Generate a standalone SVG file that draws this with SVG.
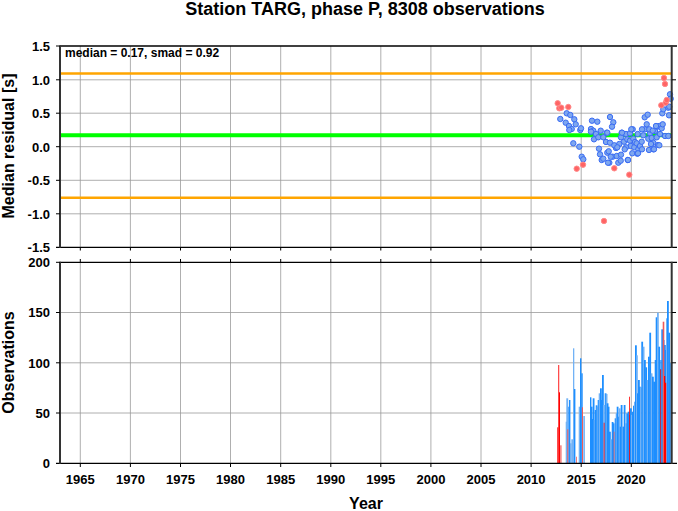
<svg xmlns="http://www.w3.org/2000/svg" width="678" height="511" viewBox="0 0 678 511">
<style>
text{font-family:"Liberation Sans",Arial,sans-serif;font-weight:bold;fill:#000}
.ty{font-size:13px;text-anchor:end}
.tx{font-size:13px;text-anchor:middle}
.lab{font-size:16px;text-anchor:middle}
.grid line{stroke:#9a9a9a;stroke-width:0.8}
.frame{stroke:#000;stroke-width:1.3;fill:none}
.side{stroke:#333;stroke-width:2}
.tick{stroke:#000;stroke-width:1}
.pb{fill:#7ea7ef;stroke:#3a6cf4;stroke-width:1}
.pr{fill:#ff6464;stroke:#ff8a8a;stroke-width:1}
.b{fill:#1e8fff}
.bl{fill:#72b2f6}
.r{fill:#ff0000}
.rl{fill:#ee5a5a}
</style>
<rect width="678" height="511" fill="#fff"/>
<text id="title" x="365" y="15.3" style="font-size:18px;text-anchor:middle">Station TARG, phase P, 8308 observations</text>

<g id="panel-residual">
 <g class="grid">
  <line x1="80.3" y1="46" x2="80.3" y2="247.3"/><line x1="130.4" y1="46" x2="130.4" y2="247.3"/><line x1="180.5" y1="46" x2="180.5" y2="247.3"/><line x1="230.5" y1="46" x2="230.5" y2="247.3"/><line x1="280.7" y1="46" x2="280.7" y2="247.3"/><line x1="330.8" y1="46" x2="330.8" y2="247.3"/><line x1="380.8" y1="46" x2="380.8" y2="247.3"/><line x1="430.9" y1="46" x2="430.9" y2="247.3"/><line x1="481" y1="46" x2="481" y2="247.3"/><line x1="531.1" y1="46" x2="531.1" y2="247.3"/><line x1="581.2" y1="46" x2="581.2" y2="247.3"/><line x1="631.3" y1="46" x2="631.3" y2="247.3"/>
  <line x1="60" y1="79.8" x2="671.7" y2="79.8"/><line x1="60" y1="113.2" x2="671.7" y2="113.2"/><line x1="60" y1="146.7" x2="671.7" y2="146.7"/><line x1="60" y1="180.3" x2="671.7" y2="180.3"/><line x1="60" y1="213.8" x2="671.7" y2="213.8"/>
 </g>
 <line x1="60" y1="73.5" x2="671.7" y2="73.5" stroke="#ffa500" stroke-width="2.6"/>
 <line x1="60" y1="197.8" x2="671.7" y2="197.8" stroke="#ffa500" stroke-width="2.6"/>
 <line x1="60" y1="135.3" x2="671.7" y2="135.3" stroke="#00ff00" stroke-width="4"/>
 <g id="points-blue">
  <circle class="pb" cx="560.3" cy="119" r="2.7"/><circle class="pb" cx="566.7" cy="113.3" r="2.7"/><circle class="pb" cx="570.3" cy="115" r="2.7"/><circle class="pb" cx="574.3" cy="119.3" r="2.7"/><circle class="pb" cx="565.7" cy="122.7" r="2.7"/><circle class="pb" cx="569" cy="126" r="2.7"/><circle class="pb" cx="571.7" cy="129" r="2.7"/><circle class="pb" cx="569.3" cy="130" r="2.7"/><circle class="pb" cx="575.7" cy="124.3" r="2.7"/><circle class="pb" cx="580.3" cy="130" r="2.7"/><circle class="pb" cx="581" cy="128.3" r="2.7"/><circle class="pb" cx="573.3" cy="143.3" r="2.7"/><circle class="pb" cx="579.3" cy="146.7" r="2.7"/><circle class="pb" cx="581.7" cy="156.7" r="2.7"/><circle class="pb" cx="583.3" cy="159.3" r="2.7"/>
  <circle class="pb" cx="592" cy="120.7" r="2.7"/><circle class="pb" cx="597.3" cy="121.7" r="2.7"/><circle class="pb" cx="610" cy="117" r="2.7"/><circle class="pb" cx="613.3" cy="122.3" r="2.7"/><circle class="pb" cx="612" cy="126.7" r="2.7"/><circle class="pb" cx="591" cy="129" r="2.7"/><circle class="pb" cx="593.3" cy="130.7" r="2.7"/><circle class="pb" cx="600.7" cy="130.7" r="2.7"/><circle class="pb" cx="606.7" cy="132.7" r="2.7"/><circle class="pb" cx="596" cy="134" r="2.7"/><circle class="pb" cx="594" cy="139.3" r="2.7"/><circle class="pb" cx="598.3" cy="137.3" r="2.7"/><circle class="pb" cx="591" cy="131.7" r="2.7"/><circle class="pb" cx="603.3" cy="137.3" r="2.7"/><circle class="pb" cx="606" cy="142" r="2.7"/><circle class="pb" cx="610" cy="142.7" r="2.7"/><circle class="pb" cx="599" cy="148.7" r="2.7"/><circle class="pb" cx="600" cy="154.3" r="2.7"/><circle class="pb" cx="601.7" cy="160" r="2.7"/><circle class="pb" cx="603.3" cy="158.7" r="2.7"/><circle class="pb" cx="607.3" cy="152.7" r="2.7"/><circle class="pb" cx="608.7" cy="151.3" r="2.7"/><circle class="pb" cx="609.3" cy="162.7" r="2.7"/><circle class="pb" cx="612.7" cy="156.7" r="2.7"/><circle class="pb" cx="616.7" cy="156" r="2.7"/><circle class="pb" cx="621" cy="154.7" r="2.7"/><circle class="pb" cx="618.3" cy="162.7" r="2.7"/><circle class="pb" cx="616" cy="148" r="2.7"/><circle class="pb" cx="614.3" cy="145.3" r="2.7"/><circle class="pb" cx="619.3" cy="144" r="2.7"/><circle class="pb" cx="617.3" cy="147.3" r="2.7"/>
  <circle class="pb" cx="621.7" cy="132.7" r="2.7"/><circle class="pb" cx="621" cy="137.3" r="2.7"/><circle class="pb" cx="626" cy="134" r="2.7"/><circle class="pb" cx="630" cy="133.3" r="2.7"/><circle class="pb" cx="632.7" cy="129.3" r="2.7"/><circle class="pb" cx="624" cy="141.7" r="2.7"/><circle class="pb" cx="627.3" cy="139.3" r="2.7"/><circle class="pb" cx="630" cy="140.7" r="2.7"/><circle class="pb" cx="633.3" cy="138.7" r="2.7"/><circle class="pb" cx="635" cy="142" r="2.7"/><circle class="pb" cx="630.7" cy="146" r="2.7"/><circle class="pb" cx="626" cy="147.3" r="2.7"/><circle class="pb" cx="624.7" cy="149.3" r="2.7"/><circle class="pb" cx="627.7" cy="160" r="2.7"/><circle class="pb" cx="632.3" cy="153.3" r="2.7"/><circle class="pb" cx="634.3" cy="147.3" r="2.7"/><circle class="pb" cx="636.7" cy="143.3" r="2.7"/><circle class="pb" cx="638.3" cy="149.3" r="2.7"/><circle class="pb" cx="637.3" cy="153.7" r="2.7"/><circle class="pb" cx="640" cy="146" r="2.7"/><circle class="pb" cx="641.7" cy="141.7" r="2.7"/><circle class="pb" cx="643.3" cy="135.3" r="2.7"/><circle class="pb" cx="645" cy="129.3" r="2.7"/><circle class="pb" cx="646.7" cy="124.3" r="2.7"/><circle class="pb" cx="644.7" cy="117.3" r="2.7"/><circle class="pb" cx="647.7" cy="114.7" r="2.7"/><circle class="pb" cx="650" cy="133.3" r="2.7"/><circle class="pb" cx="648.3" cy="138.7" r="2.7"/><circle class="pb" cx="651.7" cy="138" r="2.7"/><circle class="pb" cx="653.3" cy="142.7" r="2.7"/><circle class="pb" cx="649" cy="150" r="2.7"/><circle class="pb" cx="653.3" cy="149.3" r="2.7"/><circle class="pb" cx="658" cy="145" r="2.7"/><circle class="pb" cx="651" cy="144" r="2.7"/><circle class="pb" cx="655" cy="131" r="2.7"/><circle class="pb" cx="657.3" cy="126.7" r="2.7"/><circle class="pb" cx="659.3" cy="126" r="2.7"/><circle class="pb" cx="661.7" cy="128.3" r="2.7"/><circle class="pb" cx="662.7" cy="124.3" r="2.7"/><circle class="pb" cx="656.7" cy="137.3" r="2.7"/><circle class="pb" cx="660" cy="134" r="2.7"/><circle class="pb" cx="665" cy="136" r="2.7"/><circle class="pb" cx="662.3" cy="113.3" r="2.7"/><circle class="pb" cx="663.3" cy="109.3" r="2.7"/><circle class="pb" cx="668.3" cy="107.7" r="2.7"/><circle class="pb" cx="669" cy="115.3" r="2.7"/><circle class="pb" cx="670" cy="94.3" r="2.7"/><circle class="pb" cx="670.7" cy="98.7" r="2.7"/><circle class="pb" cx="669.3" cy="106.7" r="2.7"/><circle class="pb" cx="668.3" cy="136" r="2.7"/>
  <circle class="pb" cx="607.3" cy="132.7" r="2.7"/><circle class="pb" cx="622" cy="132.7" r="2.7"/><circle class="pb" cx="631.3" cy="129.3" r="2.7"/><circle class="pb" cx="637.7" cy="134" r="2.7"/><circle class="pb" cx="642" cy="129.3" r="2.7"/><circle class="pb" cx="649.3" cy="129.3" r="2.7"/><circle class="pb" cx="652.7" cy="130.7" r="2.7"/><circle class="pb" cx="656" cy="126" r="2.7"/><circle class="pb" cx="610.7" cy="156.7" r="2.7"/><circle class="pb" cx="608" cy="162.7" r="2.7"/><circle class="pb" cx="628" cy="160" r="2.7"/><circle class="pb" cx="638" cy="153.3" r="2.7"/><circle class="pb" cx="642" cy="149.3" r="2.7"/><circle class="pb" cx="654" cy="149.3" r="2.7"/><circle class="pb" cx="659.3" cy="145.3" r="2.7"/><circle class="pb" cx="620.7" cy="160.7" r="2.7"/>
 </g>
 <g id="points-red">
  <circle class="pr" cx="557.7" cy="103.3" r="2.7"/><circle class="pr" cx="559.3" cy="108.3" r="2.7"/><circle class="pr" cx="561.3" cy="107.7" r="2.7"/><circle class="pr" cx="568.3" cy="107" r="2.7"/><circle class="pr" cx="576.7" cy="168.7" r="2.7"/><circle class="pr" cx="583" cy="164.7" r="2.7"/><circle class="pr" cx="614.3" cy="168.3" r="2.7"/><circle class="pr" cx="629.3" cy="174.7" r="2.7"/><circle class="pr" cx="604" cy="221" r="2.7"/><circle class="pr" cx="664" cy="78" r="2.7"/><circle class="pr" cx="665" cy="84" r="2.7"/><circle class="pr" cx="661.3" cy="105.3" r="2.7"/><circle class="pr" cx="665.7" cy="102.7" r="2.7"/><circle class="pr" cx="666.7" cy="100" r="2.7"/>
 </g>
 <text x="65" y="57.3" style="font-size:12px">median = 0.17, smad = 0.92</text>
 <line class="frame" x1="60" y1="46" x2="677" y2="46"/>
 <line class="frame" x1="56" y1="247.3" x2="677" y2="247.3"/>
 <line class="side" x1="60" y1="45.5" x2="60" y2="247.8"/>
 <line class="side" x1="671.7" y1="45.5" x2="671.7" y2="247.8"/>
 <g class="tick">
  <line x1="56" y1="46" x2="60" y2="46"/><line x1="56" y1="79.8" x2="60" y2="79.8"/><line x1="56" y1="113.2" x2="60" y2="113.2"/><line x1="56" y1="146.7" x2="60" y2="146.7"/><line x1="56" y1="180.3" x2="60" y2="180.3"/><line x1="56" y1="213.8" x2="60" y2="213.8"/>
  <line x1="671.7" y1="79.8" x2="676" y2="79.8"/><line x1="671.7" y1="113.2" x2="676" y2="113.2"/><line x1="671.7" y1="146.7" x2="676" y2="146.7"/><line x1="671.7" y1="180.3" x2="676" y2="180.3"/><line x1="671.7" y1="213.8" x2="676" y2="213.8"/>
  <line x1="80.3" y1="247.3" x2="80.3" y2="250.5"/><line x1="130.4" y1="247.3" x2="130.4" y2="250.5"/><line x1="180.5" y1="247.3" x2="180.5" y2="250.5"/><line x1="230.5" y1="247.3" x2="230.5" y2="250.5"/><line x1="280.7" y1="247.3" x2="280.7" y2="250.5"/><line x1="330.8" y1="247.3" x2="330.8" y2="250.5"/><line x1="380.8" y1="247.3" x2="380.8" y2="250.5"/><line x1="430.9" y1="247.3" x2="430.9" y2="250.5"/><line x1="481" y1="247.3" x2="481" y2="250.5"/><line x1="531.1" y1="247.3" x2="531.1" y2="250.5"/><line x1="581.2" y1="247.3" x2="581.2" y2="250.5"/><line x1="631.3" y1="247.3" x2="631.3" y2="250.5"/>
 </g>
 <g id="yticks-top">
  <text class="ty" x="50" y="50.8">1.5</text><text class="ty" x="50" y="84.6">1.0</text><text class="ty" x="50" y="118">0.5</text><text class="ty" x="50" y="151.5">0.0</text><text class="ty" x="50" y="185.1">-0.5</text><text class="ty" x="50" y="218.6">-1.0</text><text class="ty" x="50" y="252.1">-1.5</text>
 </g>
 <text class="lab" transform="translate(13.5,146) rotate(-90)">Median residual [s]</text>
</g>

<g id="panel-observations">
 <g class="grid">
  <line x1="80.3" y1="262.3" x2="80.3" y2="463.3"/><line x1="130.4" y1="262.3" x2="130.4" y2="463.3"/><line x1="180.5" y1="262.3" x2="180.5" y2="463.3"/><line x1="230.5" y1="262.3" x2="230.5" y2="463.3"/><line x1="280.7" y1="262.3" x2="280.7" y2="463.3"/><line x1="330.8" y1="262.3" x2="330.8" y2="463.3"/><line x1="380.8" y1="262.3" x2="380.8" y2="463.3"/><line x1="430.9" y1="262.3" x2="430.9" y2="463.3"/><line x1="481" y1="262.3" x2="481" y2="463.3"/><line x1="531.1" y1="262.3" x2="531.1" y2="463.3"/><line x1="581.2" y1="262.3" x2="581.2" y2="463.3"/><line x1="631.3" y1="262.3" x2="631.3" y2="463.3"/>
  <line x1="60" y1="312.5" x2="671.7" y2="312.5"/><line x1="60" y1="362.8" x2="671.7" y2="362.8"/><line x1="60" y1="413" x2="671.7" y2="413"/>
 </g>
 <g id="bars-blue">
  <rect class="bl" x="565.7" y="421.7" width="1.8" height="41.6"/><rect class="bl" x="566.3" y="398.3" width="1.9" height="65"/><rect class="b" x="568.3" y="406.7" width="1.2" height="56.6"/><rect class="b" x="569" y="400" width="1.4" height="63.3"/><rect class="bl" x="570" y="443.3" width="1.6" height="20"/><rect class="bl" x="571.3" y="439.3" width="1.8" height="24"/><rect class="bl" x="573" y="348.3" width="1.3" height="115"/><rect class="b" x="574" y="389" width="1.4" height="74.3"/><rect class="bl" x="578.7" y="406.7" width="1.4" height="56.6"/><rect class="b" x="580" y="358.3" width="1.4" height="105"/><rect class="b" x="581.3" y="373.3" width="1.4" height="90"/><rect class="bl" x="583.3" y="416" width="1.6" height="47.3"/>
  <rect class="b" x="590" y="397.3" width="1.4" height="66"/><rect class="b" x="590.7" y="406.7" width="1.8" height="56.6"/><rect class="b" x="591.7" y="419" width="1.8" height="44.3"/><rect class="b" x="592.7" y="398.3" width="1.8" height="65"/><rect class="bl" x="593.7" y="420" width="1.8" height="43.3"/><rect class="b" x="594.7" y="410" width="1.8" height="53.3"/><rect class="b" x="595.7" y="405.3" width="1.8" height="58"/><rect class="bl" x="596.7" y="406.7" width="1.8" height="56.6"/><rect class="b" x="597.7" y="400" width="1.8" height="63.3"/><rect class="bl" x="598.7" y="393.3" width="1.8" height="70"/><rect class="b" x="600" y="388.3" width="1.8" height="75"/><rect class="b" x="601" y="400" width="1.8" height="63.3"/><rect class="b" x="602" y="375" width="1.8" height="88.3"/><rect class="bl" x="603" y="405" width="1.8" height="58.3"/><rect class="b" x="604.7" y="393.3" width="1.8" height="70"/><rect class="bl" x="605.7" y="394" width="1.8" height="69.3"/><rect class="b" x="606.7" y="403.3" width="1.8" height="60"/><rect class="b" x="607.7" y="406.7" width="1.8" height="56.6"/><rect class="b" x="609" y="431.7" width="1.8" height="31.6"/><rect class="bl" x="610.3" y="439.3" width="1.8" height="24"/><rect class="b" x="611.7" y="422" width="1.8" height="41.3"/><rect class="b" x="612.7" y="423.3" width="1.8" height="40"/><rect class="b" x="614.7" y="418.3" width="1.8" height="45"/><rect class="bl" x="615.7" y="413.3" width="1.8" height="50"/><rect class="b" x="616.7" y="406.7" width="1.8" height="56.6"/><rect class="b" x="617.7" y="416.7" width="1.8" height="46.6"/><rect class="bl" x="618.7" y="408.3" width="1.8" height="55"/><rect class="b" x="619.7" y="426.7" width="1.8" height="36.6"/><rect class="b" x="620.7" y="405" width="1.8" height="58.3"/><rect class="bl" x="621.7" y="426.7" width="1.8" height="36.6"/><rect class="b" x="622.7" y="426.7" width="1.8" height="36.6"/><rect class="b" x="623.7" y="405" width="1.8" height="58.3"/><rect class="bl" x="625" y="423.3" width="1.8" height="40"/><rect class="b" x="626.3" y="413.3" width="1.8" height="50"/><rect class="b" x="627.7" y="411.7" width="1.8" height="51.6"/><rect class="b" x="628.7" y="415" width="1.6" height="48.3"/>
  <rect class="b" x="630" y="408.3" width="1.8" height="55"/><rect class="bl" x="631" y="415" width="1.8" height="48.3"/><rect class="b" x="632" y="411.7" width="1.8" height="51.6"/><rect class="b" x="633" y="405.7" width="1.8" height="57.6"/><rect class="bl" x="634" y="401.7" width="1.8" height="61.6"/><rect class="b" x="635" y="345.3" width="1.8" height="118"/><rect class="bl" x="636" y="355.3" width="1.8" height="108"/><rect class="b" x="637" y="393.3" width="1.8" height="70"/><rect class="b" x="638" y="380" width="1.8" height="83.3"/><rect class="b" x="639" y="386.7" width="1.8" height="76.6"/><rect class="bl" x="640" y="387.3" width="1.8" height="76"/><rect class="b" x="641.3" y="341.7" width="1.8" height="121.6"/><rect class="bl" x="642.7" y="346.7" width="1.8" height="116.6"/><rect class="b" x="644" y="360" width="1.8" height="103.3"/><rect class="b" x="645.3" y="367.3" width="1.8" height="96"/><rect class="bl" x="646.7" y="380" width="1.8" height="83.3"/><rect class="b" x="648" y="356.7" width="1.8" height="106.6"/><rect class="b" x="649.3" y="332.7" width="1.8" height="130.6"/><rect class="bl" x="650.7" y="373.3" width="1.8" height="90"/><rect class="b" x="652" y="376.7" width="1.8" height="86.6"/><rect class="b" x="653.3" y="381.7" width="1.8" height="81.6"/><rect class="b" x="654.7" y="360" width="1.8" height="103.3"/><rect class="b" x="655.7" y="317.3" width="1.8" height="146"/><rect class="bl" x="657" y="312.7" width="1.8" height="150.6"/><rect class="b" x="658.3" y="346.7" width="1.8" height="116.6"/><rect class="b" x="659.3" y="369.3" width="1.8" height="94"/><rect class="b" x="660.3" y="360" width="1.4" height="103.3"/><rect class="b" x="661.3" y="329.3" width="1.8" height="134"/><rect class="b" x="662.7" y="340" width="1.8" height="123.3"/><rect class="b" x="664" y="345" width="1.8" height="118.3"/><rect class="b" x="665" y="350" width="1.8" height="113.3"/><rect class="bl" x="666" y="318.3" width="1.8" height="145"/><rect class="b" x="667" y="301" width="1.8" height="162.3"/><rect class="b" x="668.3" y="332.7" width="1.8" height="130.6"/><rect class="b" x="669.7" y="363.3" width="1.4" height="100"/><rect class="bl" x="670.3" y="363.3" width="1.4" height="100"/>
 </g>
 <g id="bars-red">
  <rect class="r" x="557.3" y="427.3" width="1" height="36"/><rect class="r" x="558.3" y="365" width="0.9" height="98.3"/><rect class="r" x="559" y="392.3" width="1" height="71"/><rect class="rl" x="560.3" y="445.3" width="1.2" height="18"/><rect class="rl" x="567.3" y="429.3" width="1" height="34"/><rect class="rl" x="576" y="456.7" width="0.8" height="6.6"/><rect class="rl" x="582" y="407.3" width="1" height="56"/><rect class="r" x="603.7" y="422.7" width="0.8" height="40.6"/><rect class="rl" x="613.7" y="431.7" width="0.8" height="31.6"/><rect class="r" x="629" y="396.7" width="0.8" height="66.6"/><rect class="r" x="660.3" y="369.3" width="0.8" height="94"/><rect class="rl" x="662.7" y="321.7" width="1.6" height="141.6"/><rect class="r" x="664" y="376" width="1.2" height="87.3"/><rect class="r" x="665" y="382.7" width="1.2" height="80.6"/>
 </g>
 <line class="frame" x1="60" y1="262.3" x2="677" y2="262.3"/>
 <line class="frame" x1="56" y1="463.3" x2="677" y2="463.3"/>
 <line class="side" x1="60" y1="261.8" x2="60" y2="463.8"/>
 <line class="side" x1="671.7" y1="261.8" x2="671.7" y2="463.8"/>
 <g class="tick">
  <line x1="56" y1="262.3" x2="60" y2="262.3"/><line x1="56" y1="312.5" x2="60" y2="312.5"/><line x1="56" y1="362.8" x2="60" y2="362.8"/><line x1="56" y1="413" x2="60" y2="413"/>
  <line x1="671.7" y1="312.5" x2="676" y2="312.5"/><line x1="671.7" y1="362.8" x2="676" y2="362.8"/><line x1="671.7" y1="413" x2="676" y2="413"/>
  <line x1="80.3" y1="259" x2="80.3" y2="262.3"/><line x1="130.4" y1="259" x2="130.4" y2="262.3"/><line x1="180.5" y1="259" x2="180.5" y2="262.3"/><line x1="230.5" y1="259" x2="230.5" y2="262.3"/><line x1="280.7" y1="259" x2="280.7" y2="262.3"/><line x1="330.8" y1="259" x2="330.8" y2="262.3"/><line x1="380.8" y1="259" x2="380.8" y2="262.3"/><line x1="430.9" y1="259" x2="430.9" y2="262.3"/><line x1="481" y1="259" x2="481" y2="262.3"/><line x1="531.1" y1="259" x2="531.1" y2="262.3"/><line x1="581.2" y1="259" x2="581.2" y2="262.3"/><line x1="631.3" y1="259" x2="631.3" y2="262.3"/>
  <line x1="80.3" y1="463.3" x2="80.3" y2="467"/><line x1="130.4" y1="463.3" x2="130.4" y2="467"/><line x1="180.5" y1="463.3" x2="180.5" y2="467"/><line x1="230.5" y1="463.3" x2="230.5" y2="467"/><line x1="280.7" y1="463.3" x2="280.7" y2="467"/><line x1="330.8" y1="463.3" x2="330.8" y2="467"/><line x1="380.8" y1="463.3" x2="380.8" y2="467"/><line x1="430.9" y1="463.3" x2="430.9" y2="467"/><line x1="481" y1="463.3" x2="481" y2="467"/><line x1="531.1" y1="463.3" x2="531.1" y2="467"/><line x1="581.2" y1="463.3" x2="581.2" y2="467"/><line x1="631.3" y1="463.3" x2="631.3" y2="467"/>
 </g>
 <g id="yticks-bottom">
  <text class="ty" x="50" y="267.1">200</text><text class="ty" x="50" y="317.3">150</text><text class="ty" x="50" y="367.6">100</text><text class="ty" x="50" y="417.8">50</text><text class="ty" x="50" y="468.1">0</text>
 </g>
 <g id="xticks">
  <text class="tx" x="80.3" y="484">1965</text><text class="tx" x="130.4" y="484">1970</text><text class="tx" x="180.5" y="484">1975</text><text class="tx" x="230.5" y="484">1980</text><text class="tx" x="280.7" y="484">1985</text><text class="tx" x="330.8" y="484">1990</text><text class="tx" x="380.8" y="484">1995</text><text class="tx" x="430.9" y="484">2000</text><text class="tx" x="481" y="484">2005</text><text class="tx" x="531.1" y="484">2010</text><text class="tx" x="581.2" y="484">2015</text><text class="tx" x="631.3" y="484">2020</text>
 </g>
 <text class="lab" transform="translate(13.8,362.5) rotate(-90)">Observations</text>
 <text class="lab" x="366" y="509">Year</text>
</g>
</svg>
